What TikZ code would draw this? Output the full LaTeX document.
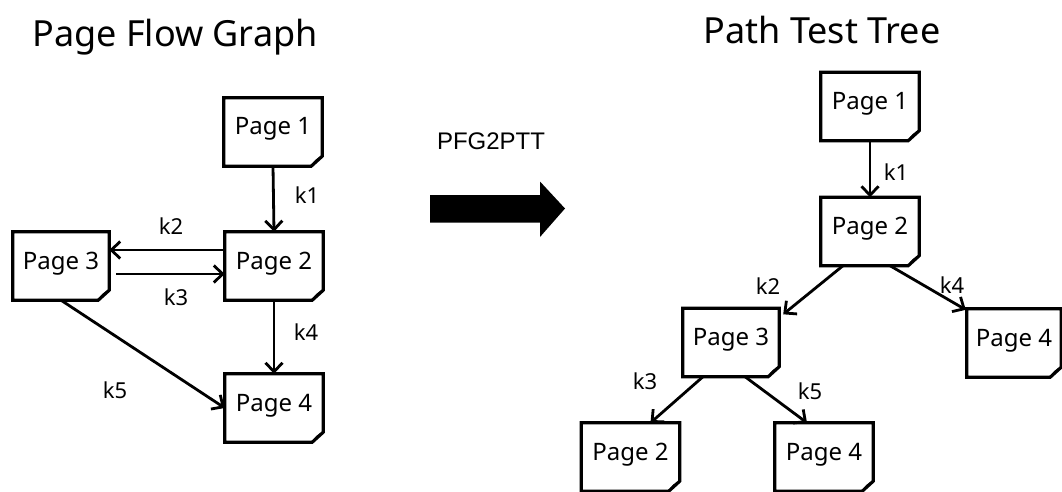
\documentclass[tikz,border=0pt]{standalone}
\usepackage{fontspec}
\setmainfont{Noto Sans}
\newfontfamily\arialfont{Liberation Sans}
\usetikzlibrary{arrows.meta,calc}

\begin{document}
\begin{tikzpicture}[x=1pt,y=1pt,
  page/.style={minimum width=98pt, minimum height=68pt, inner sep=0pt,
    text height=16pt, text depth=10pt, font=\fontsize{24}{24}\selectfont},
  lbl/.style={font=\fontsize{22}{22}\selectfont, inner sep=0pt},
  link/.style={line width=2.8pt, -{Straight Barb[length=9pt,width=17pt,line width=2.8pt]}},
  frame/.style={line width=3.2pt, line join=miter},
  heading/.style={font=\fontsize{36}{36}\selectfont, inner sep=0pt}]
\useasboundingbox (0,0) rectangle (1062,491);

% headings
\node[heading] (hpfg) at (175,454) {Page Flow Graph};
\node[heading] (hptt) at (822,461) {Path Test Tree};

% page flow graph
\node[page] (a1) at (273,359) {Page 1};
\node[page] (a2) at (274,225) {Page 2};
\node[page, minimum width=96pt] (a3) at (61,225) {Page 3};
\node[page] (a4) at (274,83) {Page 4};

% path test tree
\node[page] (b1) at (870,384.5) {Page 1};
\node[page] (b2) at (870,259.5) {Page 2};
\node[page, minimum width=96pt] (b3) at (731,148.5) {Page 3};
\node[page, minimum width=94pt] (b4) at (1014,148) {Page 4};
\node[page] (b5) at (630.5,34) {Page 2};
\node[page] (b6) at (824,34) {Page 4};

% page outlines with folded corner
\foreach \n in {a1,a2,a3,a4,b1,b2,b3,b4,b5,b6} {
  \draw[frame] (\n.north west) -- (\n.north east) -- ($(\n.south east)+(0,10)$)
    -- ($(\n.south east)+(-11,0)$) -- (\n.south west) -- cycle;
  \fill ($(\n.south east)+(-11,0)$) .. controls ($(\n.south east)+(-9,5)$)
    and ($(\n.south east)+(-5,9)$) .. ($(\n.south east)+(0,10)$) -- cycle;
}

% transformation
\node[font=\arialfont\fontsize{24}{24}\selectfont, inner sep=0pt] (conv) at (491,349.5) {PFG2PTT};
\coordinate (bigtail) at (430,282.5);
\coordinate (bigtip) at (565,282.5);
\fill (bigtail) ++(0,13.5) -- ++(110,0) -- ++(0,13.5) -- (bigtip)
  -- (540,254) -- ++(0,14.5) -- ++(-110,0) -- cycle;

% page flow graph links
\draw[link] (a1.south) -- (a2.north);
\draw[link] ([yshift=16pt]a2.west) -- ([yshift=16pt]a3.east);
\draw[link, shorten <=7pt] ([yshift=-8pt]a3.east) -- ([yshift=-8pt]a2.west);
\draw[link] (a2.south) -- (a4.north);
\draw[link] (a3.south) -- (a4.west);
\node[lbl] (la1) at (307,296) {k1};
\node[lbl] (la2) at (171,265) {k2};
\node[lbl] (la3) at (176,194) {k3};
\node[lbl] (la4) at (306,159) {k4};
\node[lbl] (la5) at (115,101) {k5};

% path test tree links
\draw[link] (b1.south) -- (b2.north);
\draw[link] ([xshift=-27pt]b2.south) -- ($(b3.north east)+(4,-6)$);
\draw[link] ([xshift=20pt]b2.south) -- ($(b4.north west)+(-1,-1)$);
\draw[link] ([xshift=-28pt]b3.south) -- ([xshift=20pt]b5.north);
\draw[link] ([xshift=14pt]b3.south) -- ([xshift=-17pt]b6.north);
\node[lbl] (lb1) at (896,319) {k1};
\node[lbl] (lb2) at (768,205) {k2};
\node[lbl] (lb4) at (952,206) {k4};
\node[lbl] (lb3) at (645,110) {k3};
\node[lbl] (lb5) at (810,100) {k5};
\end{tikzpicture}
\end{document}
